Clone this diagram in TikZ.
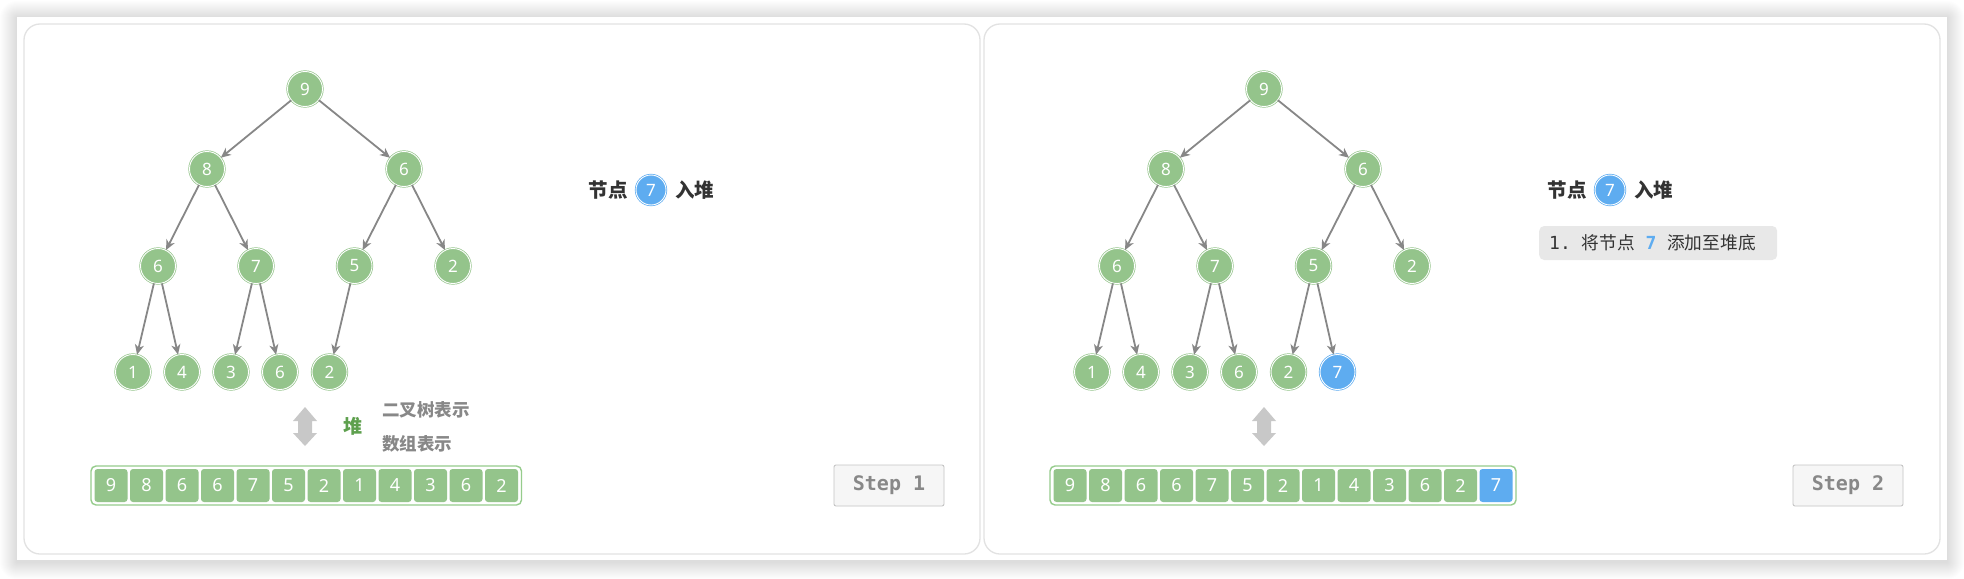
\documentclass[tikz,border=0pt]{standalone}
\usepackage{fontspec}
\setmainfont{Noto Sans}
\newfontfamily\cjk{Noto Sans CJK SC}
\newfontfamily\monof{DejaVu Sans Mono}
\usetikzlibrary{arrows.meta}
\definecolor{hgreen}{RGB}{148,196,139}
\definecolor{cgreen}{RGB}{150,204,140}
\definecolor{hblue}{RGB}{94,172,240}
\definecolor{egrey}{RGB}{135,135,135}
\definecolor{agrey}{RGB}{200,200,200}
\definecolor{pborder}{RGB}{226,226,226}
\definecolor{tgreen}{RGB}{94,160,78}
\definecolor{lgrey}{RGB}{136,136,136}
\definecolor{dtext}{RGB}{51,51,51}
\definecolor{sfill}{RGB}{246,246,246}
\definecolor{sdraw}{RGB}{196,196,196}
\definecolor{lbox}{RGB}{232,232,232}
\begin{document}
\begin{tikzpicture}[x=1pt,y=-1pt,
  treenode/.style={circle, fill=hgreen, draw=hgreen, double=white, line width=0.7pt, double distance=0.9pt,
    minimum size=35pt, inner sep=0pt, text=white, font=\fontsize{17}{17}\selectfont},
  bluenode/.style={treenode, fill=hblue, draw=hblue, font=\fontsize{17}{17}\selectfont\bfseries},
  edge/.style={draw=egrey, line width=1.8pt, -{Stealth[length=10pt,width=9pt,inset=3pt]}},
  cell/.style={rectangle, rounded corners=3pt, fill=hgreen, minimum width=33pt, minimum height=33pt,
    inner sep=0pt, text=white, font=\fontsize{18}{18}\selectfont},
  bluecell/.style={cell, fill=hblue, font=\fontsize{18}{18}\selectfont\bfseries},
  container/.style={draw=cgreen, line width=1.4pt, fill=white, rounded corners=5pt},
  panel/.style={draw=pborder, line width=1.3pt, fill=white, rounded corners=16pt},
  title/.style={text=dtext, inner sep=0pt, font={\fontsize{19.5}{20}\cjk\bfseries}},
  stepbox/.style={fill=sfill, draw=sdraw, line width=0.9pt, rounded corners=2pt, minimum width=110pt,
    minimum height=41pt, inner sep=0pt, text=lgrey, font={\fontsize{20}{20}\monof\bfseries}},
  dblarrow/.style={fill=agrey},
  sidelabel/.style={text=lgrey, inner sep=0pt, anchor=west, font={\fontsize{17.5}{18}\cjk\bfseries}}
]
\useasboundingbox (0,0) rectangle (1964,578);
% background and card shadow
\fill[white] (0,0) rectangle (1964,578);
\foreach \k in {1,...,17}
  \fill[black, opacity=0.006, rounded corners=\k pt] ({17-\k},{17-\k+1}) rectangle ({1947+\k},{560+\k+2});
\fill[white] (17,17) rectangle (1947,560);
% panels
\draw[panel] (24,24) rectangle (980,554);
\draw[panel] (984,24) rectangle (1940,554);

\foreach \p/\dx/\n in {a/0/1, b/959/2} {
  % tree
  \node[treenode] (\p0) at (\dx+305,89) {9};
  \node[treenode] (\p1) at (\dx+207,169) {8};
  \node[treenode] (\p2) at (\dx+404,169) {6};
  \node[treenode] (\p3) at (\dx+158,266) {6};
  \node[treenode] (\p4) at (\dx+256,266) {7};
  \node[treenode] (\p5) at (\dx+354.5,266) {5};
  \node[treenode] (\p6) at (\dx+453,266) {2};
  \node[treenode] (\p7) at (\dx+133,372) {1};
  \node[treenode] (\p8) at (\dx+182,372) {4};
  \node[treenode] (\p9) at (\dx+231,372) {3};
  \node[treenode] (\p10) at (\dx+280,372) {6};
  \node[treenode] (\p11) at (\dx+329.5,372) {2};
  \foreach \u/\v in {0/1,0/2,1/3,1/4,2/5,2/6,3/7,3/8,4/9,4/10,5/11}
    \draw[edge] (\p\u) -- (\p\v);
  % title
  \node[title, anchor=east] (\p t1) at (\dx+628,190) {节点};
  \node[treenode, fill=hblue, draw=hblue, minimum size=30pt] (\p t7) at (\dx+651,190) {7};
  \node[title, anchor=west] (\p t2) at (\dx+675,190) {入堆};
  % double arrow
  \fill[dblarrow] (\dx+305,407) -- (\dx+317,421) -- (\dx+312,421) -- (\dx+312,433) -- (\dx+317,433)
    -- (\dx+305,446) -- (\dx+293,433) -- (\dx+298,433) -- (\dx+298,421) -- (\dx+293,421) -- cycle;
  % step box
  \node[stepbox] (\p step) at (\dx+889,485.5) {Step \n};
}
% panel a labels
\node[text=tgreen, inner sep=0pt, font={\fontsize{19}{19}\cjk\bfseries}] (heap) at (352.5,426) {堆};
\node[sidelabel] (treerep) at (382,410) {二叉树表示};
\node[sidelabel] (arrrep) at (382,444) {数组表示};

% arrays
\draw[container] (91,466) rectangle (521.5,505);
\foreach \v [count=\i from 0] in {9,8,6,6,7,5,2,1,4,3,6,2}
  \node[cell] (ac\i) at (111+35.5*\i,485.5) {\v};
\draw[container] (1050,466) rectangle (1516,505);
\foreach \v [count=\i from 0] in {9,8,6,6,7,5,2,1,4,3,6,2}
  \node[cell] (bc\i) at (1070+35.5*\i,485.5) {\v};
\node[bluecell] (bc12) at (1070+35.5*12,485.5) {7};

% panel b extra node
\node[bluenode] (b12) at (959+378.5,372) {7};
\draw[edge] (b5) -- (b12);

% panel b step text
\node[fill=lbox, rounded corners=5pt, minimum height=34pt, text width=218pt, inner xsep=10pt, inner ysep=0pt,
  align=left, anchor=west, text=dtext, font={\fontsize{17.7}{18}\cjk}] (bl1) at (1539,243)
  {{\fontsize{18}{18}\monof 1.\hspace{10.8pt}}将节点{\fontsize{18}{18}\monof\hspace{10.8pt}{\bfseries\color{hblue}7}\hspace{10.8pt}}添加至堆底};
\end{tikzpicture}
\end{document}
